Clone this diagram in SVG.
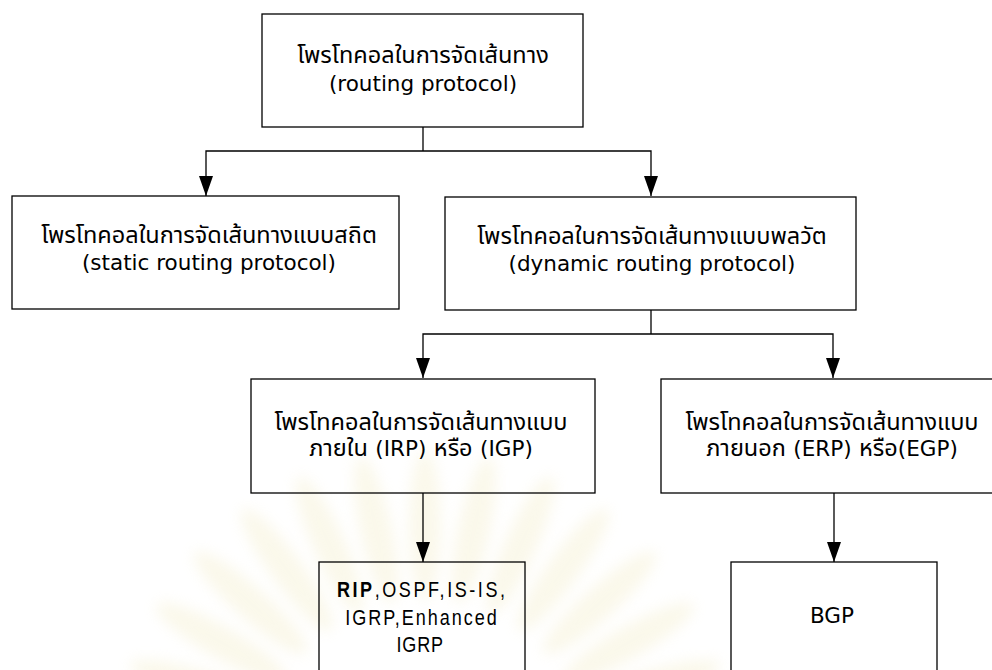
<svg xmlns="http://www.w3.org/2000/svg" width="992" height="670" viewBox="0 0 992 670">
  <defs>
    <marker id="arrow" markerUnits="userSpaceOnUse" markerWidth="20" markerHeight="14" refX="20" refY="7" orient="auto" viewBox="0 0 20 14">
      <path d="M0,0 L20,7 L0,14 Z" fill="#000"/>
    </marker>
    <filter id="soft" x="-20%" y="-20%" width="140%" height="140%">
      <feGaussianBlur stdDeviation="7"/>
    </filter>
  </defs>
  <style>
    .box { fill: none; stroke: #000; stroke-width: 1.3; }
    .conn { fill: none; stroke: #000; stroke-width: 1.3; }
    .th { font-family: "Tahoma", "DejaVu Sans", "Noto Sans Thai", "Noto Sans", sans-serif; font-size: 23.5px; fill: #000; text-anchor: middle; }
    .lat { font-family: "Tahoma", "DejaVu Sans", "Noto Sans", sans-serif; font-size: 21.5px; fill: #000; text-anchor: middle; }
    .la { font-family: "Tahoma", "DejaVu Sans", "Noto Sans", sans-serif; font-size: 21.5px; }
    .nar { font-family: "Liberation Sans", "Arial", sans-serif; font-size: 22px; fill: #000; text-anchor: middle; }
  </style>

  <rect width="992" height="670" fill="#fff"/>

  <!-- faint sunburst emblem in the background -->
  <g id="emblem" opacity="0.3" filter="url(#soft)" fill="#f1e9bd">
    <g transform="translate(425,760)">
      <ellipse cx="0" cy="-235" rx="16" ry="75" transform="rotate(-72)"/>
      <ellipse cx="0" cy="-235" rx="16" ry="75" transform="rotate(-60)"/>
      <ellipse cx="0" cy="-235" rx="16" ry="75" transform="rotate(-48)"/>
      <ellipse cx="0" cy="-235" rx="16" ry="75" transform="rotate(-36)"/>
      <ellipse cx="0" cy="-235" rx="16" ry="75" transform="rotate(-24)"/>
      <ellipse cx="0" cy="-235" rx="16" ry="75" transform="rotate(-12)"/>
      <ellipse cx="0" cy="-235" rx="16" ry="75" transform="rotate(0)"/>
      <ellipse cx="0" cy="-235" rx="16" ry="75" transform="rotate(12)"/>
      <ellipse cx="0" cy="-235" rx="16" ry="75" transform="rotate(24)"/>
      <ellipse cx="0" cy="-235" rx="16" ry="75" transform="rotate(36)"/>
      <ellipse cx="0" cy="-235" rx="16" ry="75" transform="rotate(48)"/>
      <ellipse cx="0" cy="-235" rx="16" ry="75" transform="rotate(60)"/>
      <ellipse cx="0" cy="-235" rx="16" ry="75" transform="rotate(72)"/>
    </g>
  </g>

  <!-- connectors -->
  <g id="connectors">
    <path class="conn" d="M423,127 V151"/>
    <path class="conn" d="M423,151 H206 V196" marker-end="url(#arrow)"/>
    <path class="conn" d="M423,151 H651 V196" marker-end="url(#arrow)"/>
    <path class="conn" d="M651,310 V334"/>
    <path class="conn" d="M651,334 H423 V378" marker-end="url(#arrow)"/>
    <path class="conn" d="M651,334 H833 V378" marker-end="url(#arrow)"/>
    <path class="conn" d="M423,493 V562" marker-end="url(#arrow)"/>
    <path class="conn" d="M834,493 V562" marker-end="url(#arrow)"/>
  </g>

  <g id="routing">
    <rect class="box" x="262" y="14" width="321" height="113"/>
    <text class="th" x="423" y="63">โพรโทคอลในการจัดเส้นทาง</text>
    <text class="lat" x="423" y="91">(routing protocol)</text>
  </g>

  <g id="static">
    <rect class="box" x="12" y="196" width="387" height="113"/>
    <text class="th" x="209" y="243">โพรโทคอลในการจัดเส้นทางแบบสถิต</text>
    <text class="lat" x="209" y="270">(static routing protocol)</text>
  </g>

  <g id="dynamic">
    <rect class="box" x="445" y="197" width="411" height="113"/>
    <text class="th" x="652" y="244">โพรโทคอลในการจัดเส้นทางแบบพลวัต</text>
    <text class="lat" x="652" y="271">(dynamic routing protocol)</text>
  </g>

  <g id="interior">
    <rect class="box" x="251" y="379" width="344" height="114"/>
    <text class="th" x="421" y="430">โพรโทคอลในการจัดเส้นทางแบบ</text>
    <text class="th" x="421" y="456">ภายใน <tspan class="la">(IRP)</tspan> หรือ <tspan class="la">(IGP)</tspan></text>
  </g>

  <g id="exterior">
    <rect class="box" x="661" y="379" width="345" height="114"/>
    <text class="th" x="832" y="430">โพรโทคอลในการจัดเส้นทางแบบ</text>
    <text class="th" x="832" y="456">ภายนอก <tspan class="la">(ERP)</tspan> หรือ<tspan class="la">(EGP)</tspan></text>
  </g>

  <g id="igp-list">
    <rect class="box" x="319" y="562" width="206" height="130"/>
    <!-- condensed lettering: horizontal squeeze around the box centre -->
    <g transform="translate(421,0) scale(0.82,1)">
      <text class="nar" x="0" y="597" textLength="205" lengthAdjust="spacing"><tspan font-weight="bold">RIP</tspan>,OSPF,IS-IS,</text>
      <text class="nar" x="0" y="625" textLength="185" lengthAdjust="spacing">IGRP,Enhanced</text>
      <text class="nar" x="-1" y="652" letter-spacing="1">IGRP</text>
    </g>
  </g>

  <g id="bgp">
    <rect class="box" x="731" y="562" width="206" height="130"/>
    <text class="lat" x="832" y="623">BGP</text>
  </g>
</svg>
